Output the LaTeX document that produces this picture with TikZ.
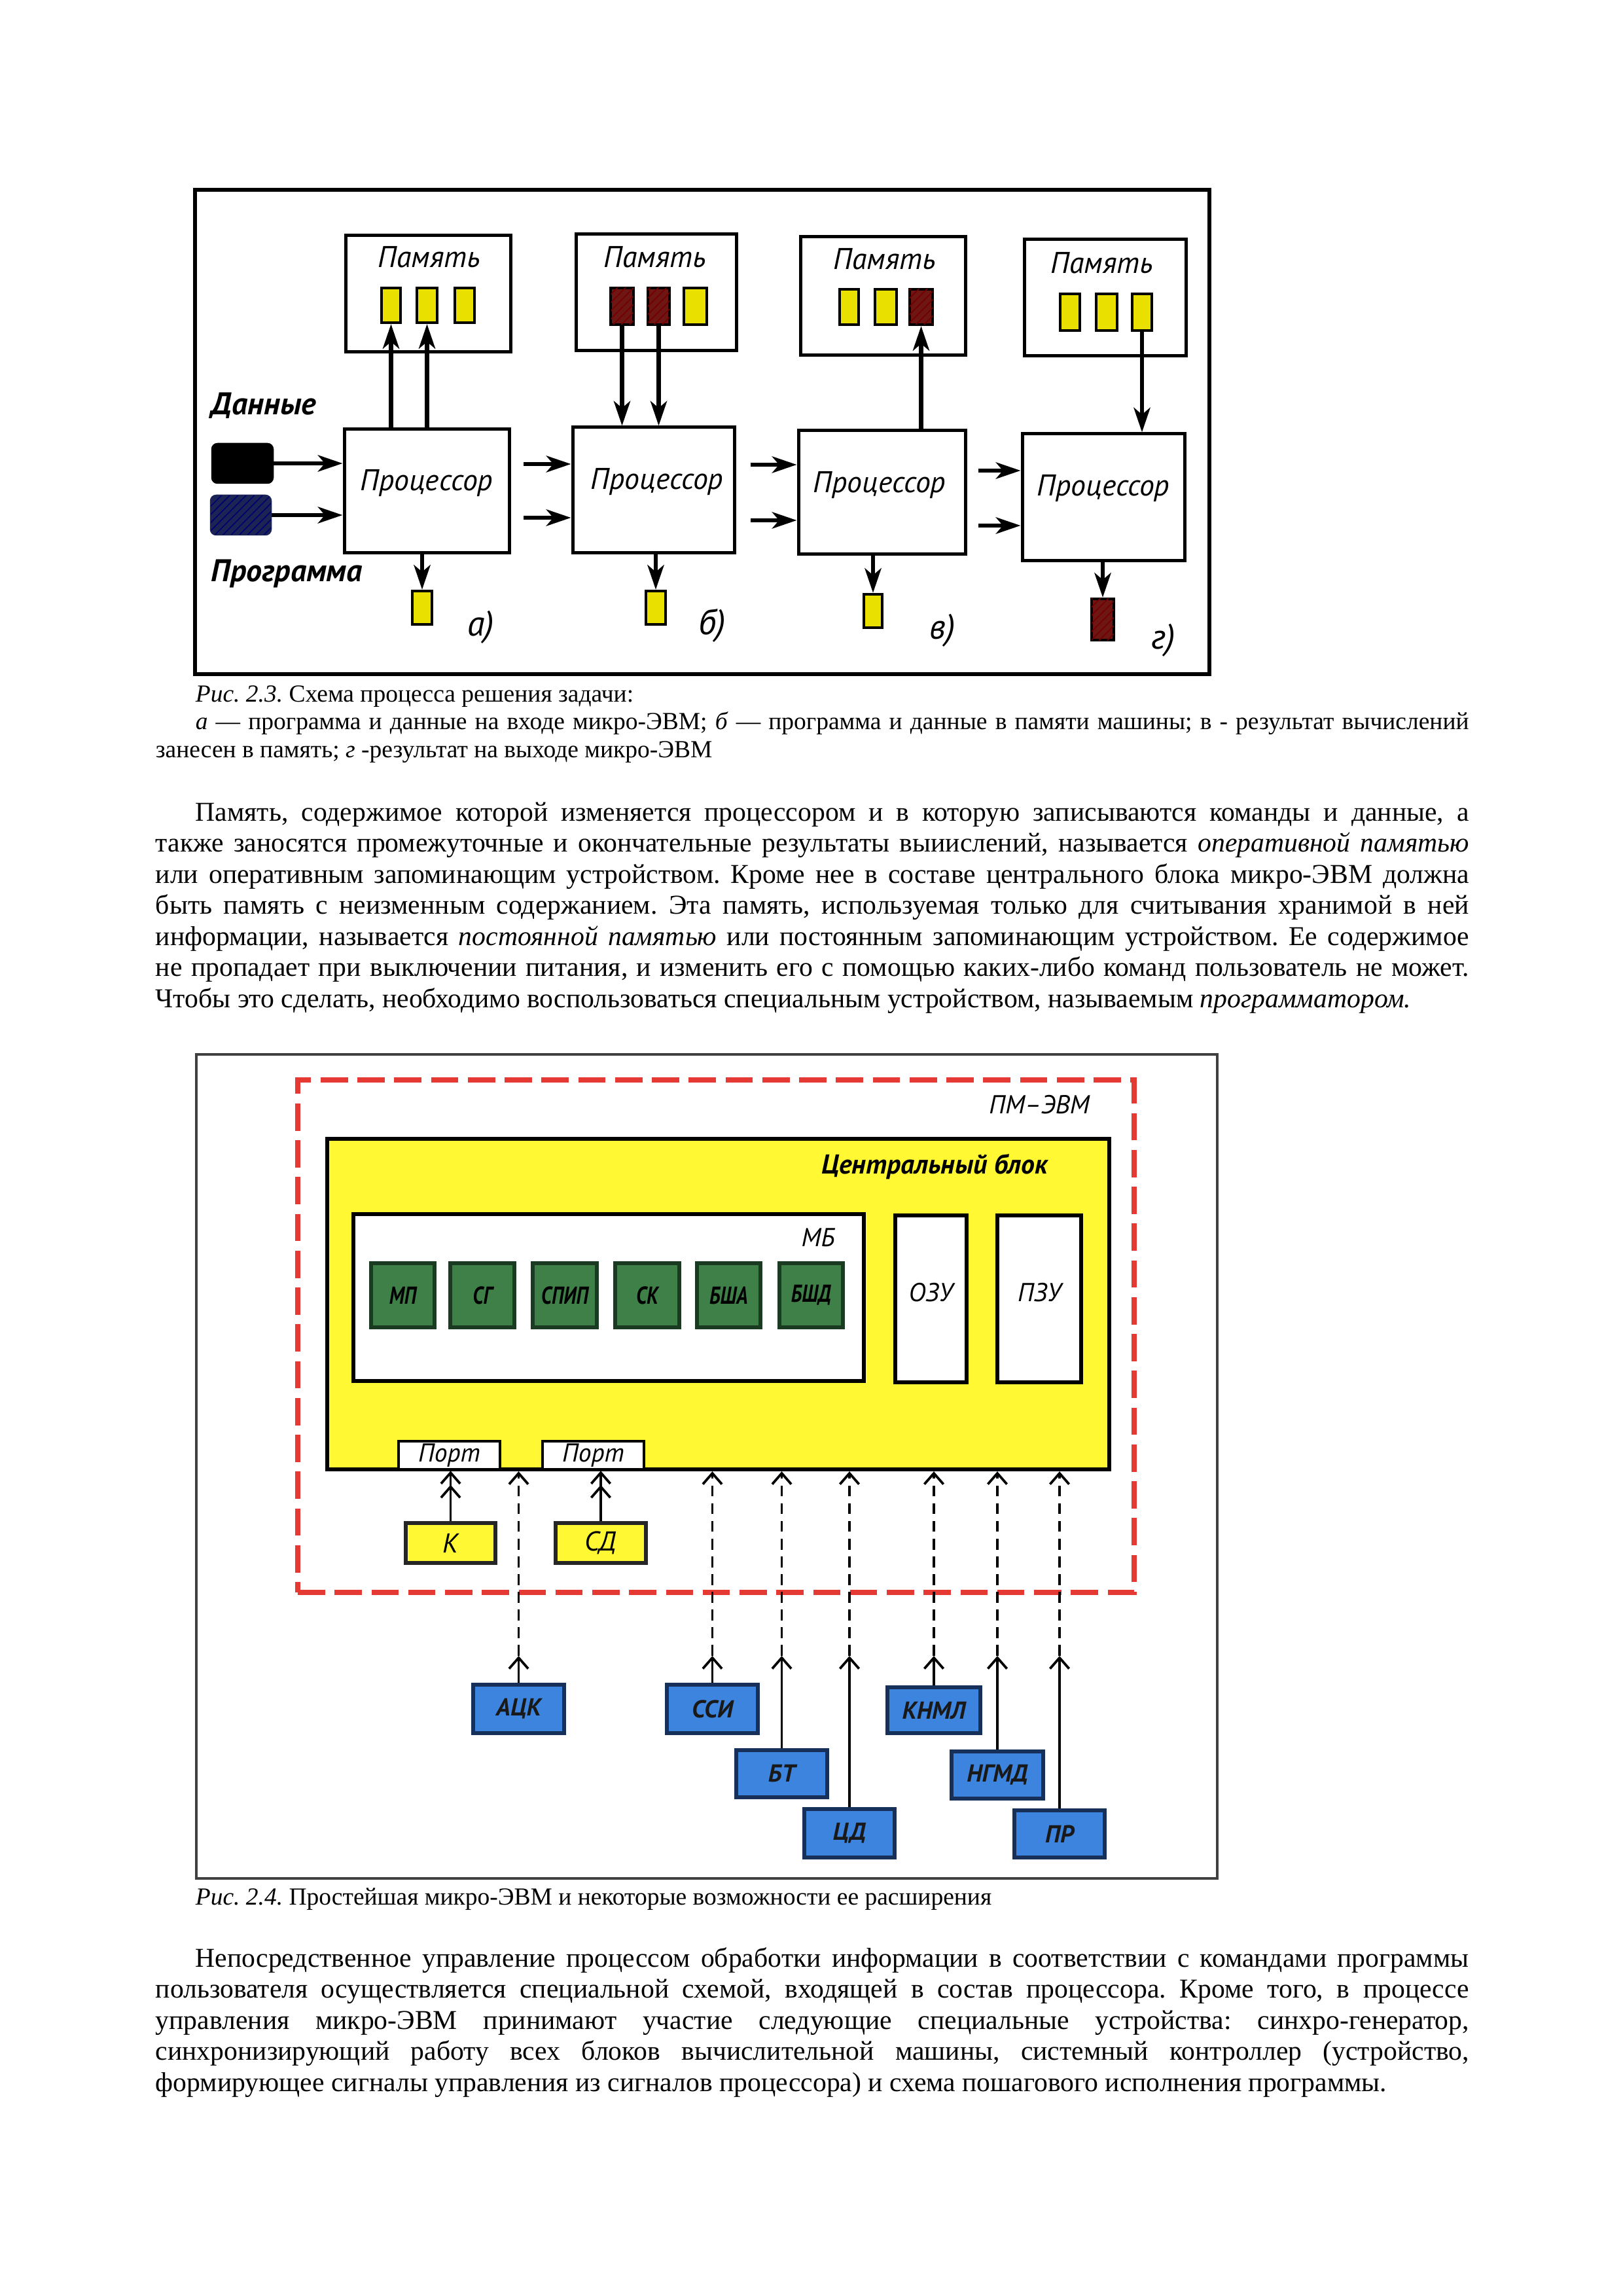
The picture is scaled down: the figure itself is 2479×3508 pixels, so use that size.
\documentclass[tikz,border=0pt]{standalone}
\usepackage{fontspec}
\usepackage{graphicx}
\setmainfont{Liberation Serif}
\newfontfamily\gost{PT Sans}
\usetikzlibrary{arrows.meta,patterns,fit}
\definecolor{cellY}{HTML}{EAE000}
\definecolor{cellR}{HTML}{6E1614}
\definecolor{blkY}{HTML}{FFF833}
\definecolor{grn}{HTML}{3F8049}
\definecolor{grnD}{HTML}{1B3A22}
\definecolor{blu}{HTML}{3D84DE}
\definecolor{bluD}{HTML}{16305A}
\definecolor{redD}{HTML}{E43A33}
\definecolor{navy}{HTML}{1B2452}
\newcommand\jl[2]{\makebox[#1][s]{#2}}
\newcommand\nar[1]{\scalebox{0.8}[1]{#1}}
\frenchspacing
\begin{document}
\frenchspacing
\begin{tikzpicture}[x=0.24pt,y=-0.24pt,
  frameA/.style={draw=black, line width=1.5pt, inner sep=0pt},
  frameB/.style={draw=black!75, line width=0.9pt, inner sep=0pt},
  box/.style={draw=black, line width=1.2pt, fill=white, inner sep=0pt},
  celly/.style={draw=black, line width=1pt, fill=cellY, inner sep=0pt},
  cellr/.style={draw=black, line width=1pt, fill=cellR, inner sep=0pt,
     postaction={pattern=north east lines, pattern color=red!45!black}},
  a1/.style={line width=1.6pt, -{Stealth[length=9pt,width=6pt,inset=2.5pt]}},
  glbl/.style={font=\gost\itshape\fontsize{11}{13}\selectfont, inner sep=0pt},
  gbig/.style={font=\gost\itshape\bfseries\fontsize{11.5}{13}\selectfont, inner sep=0pt, anchor=west},
  sublbl/.style={font=\gost\itshape\fontsize{13}{15}\selectfont, inner sep=0pt},
  redbox/.style={draw=redD, line width=2pt, dash pattern=on 10pt off 3.5pt, inner sep=0pt},
  yblock/.style={draw=black, line width=1.5pt, fill=blkY, inner sep=0pt},
  wbox/.style={draw=black, line width=1.3pt, fill=white, inner sep=0pt},
  gbox/.style={draw=grnD, line width=1.6pt, fill=grn, inner sep=0pt},
  gtxt/.style={inner sep=0pt, text=black, font=\gost\itshape\bfseries\fontsize{9}{10}\selectfont},
  bbox/.style={draw=bluD, line width=1.5pt, fill=blu, inner sep=0pt},
  btxt/.style={inner sep=0pt, text=black!90, font=\gost\itshape\bfseries\fontsize{9}{10}\selectfont},
  ybox/.style={draw=black!85, line width=1.4pt, fill=blkY, inner sep=0pt},
  ytxt/.style={inner sep=0pt, font=\gost\itshape\fontsize{10}{11}\selectfont},
  f2lbl/.style={font=\gost\itshape\fontsize{9.5}{11}\selectfont, inner sep=0pt},
  sarr/.style={line width=0.8pt, -{Straight Barb[length=4pt,width=7pt,line width=0.9pt]}},
  darr/.style={sarr, dash pattern=on 4pt off 2.5pt},
  dblarr/.style={line width=0.8pt, -{Straight Barb[length=4pt,width=7pt,line width=0.9pt] Straight Barb[length=4pt,width=7pt,line width=0.9pt]}},
  txt/.style={anchor=base west, inner sep=0pt, font=\fontsize{10}{11.5}\selectfont},
  captxt/.style={anchor=base west, inner sep=0pt, font=\fontsize{9}{10.35}\selectfont}
]
\fill[white] (0,0) rectangle (2479,3508);
\useasboundingbox (0,0) rectangle (2479,3508);

% ================= Figure 2.3 =================
\node[frameA, fit={(298,290)(1848,1030)}] (f1) {};

\node[box, fit={(528,360)(780,538)}] (m1) {};
\node[box, fit={(880,358)(1125,536)}] (m2) {};
\node[box, fit={(1223,362)(1475,543)}] (m3) {};
\node[box, fit={(1565,366)(1812,544)}] (m4) {};
\node[glbl] (tm1) at (656,393) {Память};
\node[glbl] (tm2) at (1001,393) {Память};
\node[glbl] (tm3) at (1352,396) {Память};
\node[glbl] (tm4) at (1684,402) {Память};

\node[celly, fit={(583,440)(612,493)}] (c11) {};
\node[celly, fit={(637,440)(668,493)}] (c12) {};
\node[celly, fit={(695,440)(725,493)}] (c13) {};
\node[cellr, fit={(933,440)(968,496)}] (c21) {};
\node[cellr, fit={(990,440)(1023,496)}] (c22) {};
\node[celly, fit={(1045,440)(1080,496)}] (c23) {};
\node[celly, fit={(1283,442)(1312,496)}] (c31) {};
\node[celly, fit={(1337,442)(1370,496)}] (c32) {};
\node[cellr, fit={(1390,442)(1425,496)}] (c33) {};
\node[celly, fit={(1620,449)(1650,505)}] (c41) {};
\node[celly, fit={(1675,449)(1707,505)}] (c42) {};
\node[celly, fit={(1730,449)(1760,505)}] (c43) {};

\node[box, fit={(526,656)(778,845)}] (p1) {};
\node[box, fit={(875,653)(1122,845)}] (p2) {};
\node[box, fit={(1220,658)(1475,847)}] (p3) {};
\node[box, fit={(1562,663)(1810,857)}] (p4) {};
\node[glbl] (tp1) at (652,738) {Процессор};
\node[glbl] (tp2) at (1004,736) {Процессор};
\node[glbl] (tp3) at (1344,741) {Процессор};
\node[glbl] (tp4) at (1686,746) {Процессор};

\node[celly, fit={(630,903)(660,954)}] (o1) {};
\node[celly, fit={(987,903)(1017,954)}] (o2) {};
\node[celly, fit={(1320,908)(1348,959)}] (o3) {};
\node[cellr, fit={(1668,915)(1702,978)}] (o4) {};

\node[draw=black, fill=black, rounded corners=2pt, line width=0.6pt, inner sep=0pt, fit={(324,678)(417,738)}] (dat) {};
\node[draw=navy, fill=navy, rounded corners=2pt, line width=0.6pt, inner sep=0pt, fit={(322,757)(414,817)},
   postaction={pattern=north east lines, pattern color=blue!45!black}] (prg) {};
\node[gbig] (ldat) at (322,620) {Данные};
\node[gbig] (lprg) at (322,877) {Программа};

% arrows a)
\draw[a1] (p1.north -| c11.south) -- (c11.south);
\draw[a1] (p1.north -| c12.south) -- (c12.south);
\draw[a1] (dat.east) -- (dat.east -| p1.west);
\draw[a1] (prg.east) -- (prg.east -| p1.west);
\draw[a1] (p1.south -| o1.north) -- (o1.north);
% arrows b)
\draw[a1] (c21.south) -- (c21.south |- p2.north);
\draw[a1] (c22.south) -- (c22.south |- p2.north);
\coordinate (ib1) at (800,709);
\coordinate (ib2) at (800,791);
\draw[a1] (ib1) -- (ib1 -| p2.west);
\draw[a1] (ib2) -- (ib2 -| p2.west);
\draw[a1] (p2.south -| o2.north) -- (o2.north);
% arrows c)
\draw[a1] (p3.north -| c33.south) -- (c33.south);
\coordinate (ic1) at (1147,710);
\coordinate (ic2) at (1147,795);
\draw[a1] (ic1) -- (ic1 -| p3.west);
\draw[a1] (ic2) -- (ic2 -| p3.west);
\draw[a1] (p3.south -| o3.north) -- (o3.north);
% arrows d)
\draw[a1] (c43.south) -- (c43.south |- p4.north);
\coordinate (id1) at (1495,719);
\coordinate (id2) at (1495,803);
\draw[a1] (id1) -- (id1 -| p4.west);
\draw[a1] (id2) -- (id2 -| p4.west);
\draw[a1] (p4.south -| o4.north) -- (o4.north);

\node[sublbl] (sa) at (735,958) {а)};
\node[sublbl] (sb) at (1088,956) {б)};
\node[sublbl] (sc) at (1440,963) {в)};
\node[sublbl] (sd) at (1778,978) {г)};

% ================= Caption 2.3 and paragraph =================
\node[captxt] (cap1a) at (298,1072) {\textit{Рис. 2.3.} Схема процесса решения задачи:};
\node[captxt] (cap1b) at (298,1114) {\jl{467pt}{\textit{а} — программа и данные на входе микро-ЭВМ; \textit{б} — программа и данные в памяти машины; в - результат вычислений}};
\node[captxt] (cap1c) at (237,1157) {занесен в память; \textit{г} -результат на выходе микро-ЭВМ};

\node[txt] (pa1) at (298,1254) {\jl{467pt}{Память, содержимое которой изменяется процессором и в которую записываются команды и данные, а}};
\node[txt] (pa2) at (237,1301.5) {\jl{481.7pt}{также заносятся промежуточные и окончательные результаты выиислений, называется \textit{оперативной памятью}}};
\node[txt] (pa3) at (237,1349) {\jl{481.7pt}{или оперативным запоминающим устройством. Кроме нее в составе центрального блока микро-ЭВМ должна}};
\node[txt] (pa4) at (237,1396.5) {\jl{481.7pt}{быть память с неизменным содержанием. Эта память, используемая только для считывания хранимой в ней}};
\node[txt] (pa5) at (237,1444) {\jl{481.7pt}{информации, называется \textit{постоянной памятью} или постоянным запоминающим устройством. Ее содержимое}};
\node[txt] (pa6) at (237,1491.5) {\jl{481.7pt}{не пропадает при выключении питания, и изменить его с помощью каких-либо команд пользователь не может.}};
\node[txt] (pa7) at (237,1539) {Чтобы это сделать, необходимо воспользоваться специальным устройством, называемым \textit{программатором.}};

% ================= Figure 2.4 =================
\node[frameB, fit={(300,1611)(1860,2870)}] (f2) {};
\node[redbox, fit={(455,1650)(1733,2433)}] (pm) {};
\node[f2lbl] (tpm) at (1588,1688) {ПМ–ЭВМ};
\node[yblock, fit={(500,1740)(1695,2245)}] (cb) {};
\node[f2lbl, font=\gost\itshape\bfseries\fontsize{10}{12}\selectfont] (tcb) at (1428,1783) {Центральный блок};
\node[wbox, fit={(540,1855)(1320,2110)}] (mb) {};
\node[f2lbl] (tmb) at (1250,1891) {МБ};
\node[wbox, fit={(1368,1857)(1477,2112)}] (ozu) {};
\node[wbox, fit={(1524,1857)(1652,2112)}] (pzu) {};
\node[f2lbl] (tozu) at (1422,1975) {ОЗУ};
\node[f2lbl] (tpzu) at (1588,1975) {ПЗУ};

\node[gbox, fit={(567,1930)(664,2028)}] (mp) {};
\node[gbox, fit={(688,1930)(786,2028)}] (sg) {};
\node[gbox, fit={(814,1930)(912,2028)}] (spip) {};
\node[gbox, fit={(940,1930)(1038,2028)}] (sk) {};
\node[gbox, fit={(1065,1930)(1162,2028)}] (bsha) {};
\node[gbox, fit={(1191,1930)(1288,2028)}] (bshd) {};
\node[gtxt] (tmp) at (mp.center) {\nar{МП}};
\node[gtxt] (tsg) at (sg.center) {\nar{СГ}};
\node[gtxt] (tspip) at (spip.center) {\nar{СПИП}};
\node[gtxt] (tsk) at (sk.center) {\nar{СК}};
\node[gtxt] (tbsha) at (bsha.center) {\nar{БША}};
\node[gtxt] (tbshd) at (bshd.center) {\nar{БШД}};

\node[wbox, line width=1.1pt, fit={(609,2202)(764,2245)}] (port1) {};
\node[wbox, line width=1.1pt, fit={(829,2202)(984,2245)}] (port2) {};
\node[f2lbl] (tport1) at (port1.center) {Порт};
\node[f2lbl] (tport2) at (port2.center) {Порт};

\node[ybox, fit={(620,2327)(757,2388)}] (kk) {};
\node[ybox, fit={(849,2327)(987,2388)}] (sd) {};
\node[ytxt] (tkk) at (kk.center) {К};
\node[ytxt] (tsd) at (sd.center) {СД};
\draw[dblarr] (kk.north) -- (kk.north |- port1.south);
\draw[dblarr] (sd.north) -- (sd.north |- port2.south);

\node[bbox, fit={(723,2574)(862,2648)}] (ack) {};
\node[bbox, fit={(1019,2574)(1158,2648)}] (ssi) {};
\node[bbox, fit={(1356,2578)(1498,2648)}] (knml) {};
\node[bbox, fit={(1125,2674)(1264,2746)}] (bt) {};
\node[bbox, fit={(1454,2676)(1594,2748)}] (ngmd) {};
\node[bbox, fit={(1229,2764)(1367,2838)}] (cd) {};
\node[bbox, fit={(1550,2766)(1688,2838)}] (pr) {};
\node[btxt] (tack) at (ack.center) {АЦК};
\node[btxt] (tssi) at (ssi.center) {ССИ};
\node[btxt] (tknml) at (knml.center) {КНМЛ};
\node[btxt] (tbt) at (bt.center) {БТ};
\node[btxt] (tngmd) at (ngmd.center) {НГМД};
\node[btxt] (tcd) at (cd.center) {ЦД};
\node[btxt] (tpr) at (pr.center) {ПР};

\coordinate (midy) at (0,2530);
\foreach \b in {ack,ssi,knml,bt,ngmd,cd,pr}{
  \coordinate (m\b) at (\b.north |- midy);
  \draw[sarr] (\b.north) -- (m\b);
  \draw[darr] (m\b) -- (m\b |- cb.south);
}

% ================= Caption 2.4 and paragraph =================
\node[captxt] (cap2) at (298,2910) {\textit{Рис. 2.4.} Простейшая микро-ЭВМ и некоторые возможности ее расширения};

\node[txt] (pb1) at (298,3005) {\jl{467pt}{Непосредственное управление процессом обработки информации в соответствии с командами программы}};
\node[txt] (pb2) at (237,3052.5) {\jl{481.7pt}{пользователя осуществляется специальной схемой, входящей в состав процессора. Кроме того, в процессе}};
\node[txt] (pb3) at (237,3100) {\jl{481.7pt}{управления микро-ЭВМ принимают участие следующие специальные устройства: синхро-генератор,}};
\node[txt] (pb4) at (237,3147.5) {\jl{481.7pt}{синхронизирующий работу всех блоков вычислительной машины, системный контроллер (устройство,}};
\node[txt] (pb5) at (237,3195) {формирующее сигналы управления из сигналов процессора) и схема пошагового исполнения программы.};
\end{tikzpicture}
\end{document}
